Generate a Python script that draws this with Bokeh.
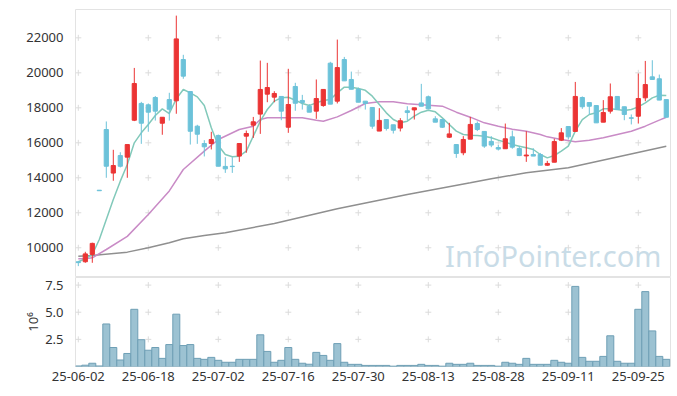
from bokeh.plotting import figure
from bokeh.layouts import column
from bokeh.models import Range1d, FixedTicker, NumeralTickFormatter, Label, ColumnDataSource
from bokeh.embed import file_html
from bokeh.resources import INLINE

dates = [
    "25-06-02", "25-06-04", "25-06-05", "25-06-09", "25-06-10", "25-06-11", "25-06-12", "25-06-13",
    "25-06-16", "25-06-17", "25-06-18", "25-06-19", "25-06-20", "25-06-23", "25-06-24", "25-06-25",
    "25-06-26", "25-06-27", "25-06-30",
    "25-07-01", "25-07-02", "25-07-03", "25-07-04", "25-07-07", "25-07-08", "25-07-09", "25-07-10",
    "25-07-11", "25-07-14", "25-07-15", "25-07-16", "25-07-17", "25-07-18", "25-07-21", "25-07-22",
    "25-07-23", "25-07-24", "25-07-25", "25-07-28", "25-07-29", "25-07-30", "25-07-31",
    "25-08-01", "25-08-04", "25-08-05", "25-08-06", "25-08-07", "25-08-08", "25-08-11", "25-08-12",
    "25-08-13", "25-08-14", "25-08-18", "25-08-19", "25-08-20", "25-08-21", "25-08-22", "25-08-25",
    "25-08-26", "25-08-27", "25-08-28", "25-08-29",
    "25-09-01", "25-09-02", "25-09-03", "25-09-04", "25-09-05", "25-09-08", "25-09-09", "25-09-10",
    "25-09-11", "25-09-12", "25-09-15", "25-09-16", "25-09-17", "25-09-18", "25-09-19", "25-09-22",
    "25-09-23", "25-09-24", "25-09-25", "25-09-26", "25-09-29", "25-09-30",
    "25-10-01",
]

open_ = [9200, 9200, 9620, 13290, 16760, 14270, 15270, 15180, 17290, 18250,
         18170, 18590, 17120, 18470, 18400, 20760, 18930, 16950, 15960, 15960,
         16420, 14650, 14660, 15240, 16380, 17010, 17640, 18780, 18610, 18650,
         16890, 19220, 18420, 18090, 17810, 18130, 20550, 18380, 20760, 19620,
         19050, 18380, 18020, 16670, 17330, 17030, 16840, 17830, 17880, 18280,
         18630, 17370, 17330, 16320, 15900, 15430, 16210, 17100, 16650, 16080,
         15730, 15660, 16340, 15670, 15250, 15330, 15330, 14720, 14890, 16150,
         16930, 16650, 18590, 18300, 18130, 17180, 17810, 18650, 18060, 17430,
         17520, 18570, 19770, 19660, 18470]
high = [9220, 9770, 10290, 13290, 17220, 15600, 15460, 15900, 20280, 18340,
        18250, 18670, 17460, 18860, 23270, 21030, 18930, 17030, 16150, 16630,
        16470, 15180, 15180, 15960, 16700, 17480, 20700, 20570, 18950, 18650,
        20230, 19430, 18740, 18210, 19620, 19050, 20630, 21900, 20910, 20070,
        19160, 18380, 18020, 17980, 17330, 17030, 17410, 18090, 18000, 19370,
        18700, 17520, 17330, 17140, 15900, 16380, 17480, 17220, 16650, 16380,
        15870, 17100, 16700, 15810, 16660, 15690, 15420, 14970, 16230, 16840,
        16930, 19480, 18650, 18300, 18130, 18440, 19390, 18650, 18060, 17620,
        19960, 20680, 20720, 19900, 18470]
low = [8950, 9140, 9140, 13260, 14000, 13830, 14590, 14000, 17240, 15940,
       16630, 17270, 16460, 17270, 17660, 19660, 15900, 15940, 15220, 15620,
       14660, 14280, 14280, 14910, 15430, 16280, 16510, 18320, 18320, 17290,
       16570, 17830, 17900, 17750, 17370, 18060, 18210, 18250, 19540, 19060,
       18320, 17900, 16800, 16670, 16700, 16530, 16650, 17290, 17330, 18090,
       17940, 17180, 16850, 16270, 15140, 15290, 16210, 16670, 15710, 15750,
       15560, 15660, 15660, 15240, 14910, 15240, 14720, 14680, 14890, 16100,
       16190, 16650, 17940, 17620, 17140, 17180, 17670, 17900, 17290, 17050,
       17100, 18380, 19620, 18440, 17460]
close = [9150, 9650, 10250, 13260, 14660, 14700, 14660, 15900, 19390, 17120,
         17750, 17810, 17460, 17920, 21940, 19810, 16660, 16490, 15770, 16190,
         14660, 14510, 14640, 15960, 16530, 17200, 19050, 19160, 18820, 17810,
         18190, 18260, 18300, 17750, 18530, 19050, 18210, 20300, 19540, 19060,
         18320, 18250, 16950, 17280, 16820, 16720, 17260, 17730, 18000, 18090,
         17940, 17180, 16890, 16510, 15390, 16190, 17050, 16760, 15810, 15870,
         15640, 16230, 15750, 15270, 15300, 15240, 14720, 14820, 16070, 16570,
         16340, 18650, 18060, 18090, 17140, 17730, 18630, 17900, 17620, 17400,
         18530, 19330, 19620, 18440, 17460]

# volume in millions of shares
volume = [0.05, 0.12, 0.3, 0.05, 3.92, 1.75, 0.6, 1.2, 5.27, 2.47,
          1.5, 1.75, 0.75, 2.02, 4.82, 1.93, 2.02, 0.75, 0.66, 0.84,
          0.57, 0.39, 0.39, 0.66, 0.66, 0.66, 2.92, 1.39, 0.39, 0.57,
          1.75, 0.66, 0.3, 0.21, 1.3, 1.02, 0.57, 2.11, 0.39, 0.2,
          0.2, 0.1, 0.1, 0.1, 0.1, 0.03, 0.1, 0.1, 0.1, 0.2,
          0.1, 0.1, 0.03, 0.3, 0.2, 0.2, 0.3, 0.1, 0.1, 0.1,
          0.03, 0.39, 0.3, 0.2, 0.75, 0.2, 0.2, 0.2, 0.57, 0.39,
          0.3, 7.38, 0.84, 0.48, 0.48, 0.93, 2.83, 0.48, 0.3, 0.3,
          5.27, 6.9, 3.28, 0.93, 0.66]

ma_short = [9200, 9369, 9617, 10474, 11617, 12760, 13807, 14760, 15998, 16569,
            17045, 17560, 17941, 17674, 18512, 19045, 18855, 18626, 18131, 16855,
            15850, 15331, 15198, 15236, 15521, 16379, 17236, 17903, 18379, 18569,
            18607, 18436, 18245, 18131, 18283, 18417, 18474, 18855, 19179, 19179,
            19103, 19000, 18665, 18189, 17713, 17332, 17141, 17237, 17522, 17751,
            17865, 17770, 17427, 17046, 16665, 16475, 16437, 16418, 16379, 16284,
            16151, 16037, 15903, 15807, 15712, 15617, 15331, 15140, 15274, 15521,
            15807, 16664, 17331, 17617, 17712, 17941, 17941, 17902, 17845, 17902,
            18055, 18283, 18569, 18721, 18702]

ma_mid_x = [0, 1, 2, 4, 7, 10, 13, 15, 18, 20, 23, 25, 26, 27, 30, 32, 34, 35, 37, 39,
            41, 43, 45, 47, 50, 52, 54, 56, 58, 60, 62, 64, 66, 67, 69, 71, 73, 75, 77,
            79, 81, 83, 84]
ma_mid_y = [9369, 9369, 9426, 9900, 10650, 11900, 13250, 14474, 15522, 16188, 16760, 16950,
            17331, 17427, 17427, 17427, 17293, 17236, 17483, 17845, 18245, 18341, 18341,
            18227, 18151, 18094, 17751, 17465, 17141, 16951, 16780, 16664, 16474, 16340,
            16188, 16055, 16150, 16283, 16474, 16664, 16950, 17293, 17464]

ma_long_x = [0, 2, 7, 10, 13, 15, 18, 21, 28, 37, 47, 56, 59, 64, 70, 84]
ma_long_y = [9520, 9560, 9750, 10000, 10284, 10512, 10702, 10860, 11390, 12230, 13050,
             13710, 13940, 14290, 14570, 15806]

price_ticks = [10000, 12000, 14000, 16000, 18000, 20000, 22000]
volume_ticks = [2.5, 5.0, 7.5]
date_tick_idx = [0, 10, 20, 30, 40, 50, 60, 70, 80]

UP = "#eb3434"
DOWN = "#6cc2d9"
FONT = "Noto Sans"
LABEL_COLOR = "#333333"
GRID_MARK = "#dcdcdc"

idx = list(range(len(dates)))
colors = [UP if c > o else DOWN for o, c in zip(open_, close)]
src = ColumnDataSource(dict(
    x=idx, open=open_, high=high, low=low, close=close,
    top=[max(o, c) for o, c in zip(open_, close)],
    bottom=[min(o, c) for o, c in zip(open_, close)],
    color=colors, vol=volume, date=dates,
))

x_range = Range1d(-0.4, 84.6)


def style(fig):
    fig.outline_line_color = "#e3e3e3"
    fig.xgrid.visible = False
    fig.ygrid.visible = False
    fig.background_fill_color = "white"
    fig.border_fill_color = "white"
    for ax in fig.axis:
        ax.axis_line_color = None
        ax.major_tick_line_color = None
        ax.minor_tick_line_color = None
        ax.major_label_text_font = FONT
        ax.major_label_text_font_size = "13px"
        ax.major_label_text_color = LABEL_COLOR
        ax.major_label_standoff = 6


p = figure(frame_width=595, frame_height=268, x_range=x_range,
           y_range=Range1d(8300, 23620), output_backend="svg", toolbar_location=None,
           x_axis_location=None, min_border_left=75, min_border_right=2,
           min_border_top=9, min_border_bottom=0)
style(p)
p.yaxis.ticker = FixedTicker(ticks=price_ticks)

# grid intersection marks
gx = [t for t in date_tick_idx for _ in price_ticks]
gy = [v for _ in date_tick_idx for v in price_ticks]
p.scatter(gx, gy, marker="cross", size=6, line_color=GRID_MARK, line_width=1)

wm = Label(x=83.3, y=8450, text="InfoPointer.com", text_align="right",
           text_font=FONT, text_font_size="29px", text_color="#c9dce7")
p.add_layout(wm)

p.line(ma_long_x, ma_long_y, line_color="#8f8f8f", line_width=1.5)
p.line(ma_mid_x, ma_mid_y, line_color="#c98bc6", line_width=1.5)
p.line(idx, ma_short, line_color="#82c9ba", line_width=1.5)

p.segment(x0="x", y0="high", x1="x", y1="low", line_color="color", line_width=1, source=src)
p.vbar(x="x", width=0.6, top="top", bottom="bottom", fill_color="color",
       line_color="color", line_width=1, source=src)

v = figure(frame_width=595, frame_height=89, x_range=x_range,
           y_range=Range1d(0, 8.2), output_backend="svg", toolbar_location=None,
           min_border_left=75, min_border_right=2, min_border_top=0, min_border_bottom=22)
style(v)
v.yaxis.ticker = FixedTicker(ticks=volume_ticks)
v.yaxis.formatter = NumeralTickFormatter(format="0.0")
v.yaxis.axis_label = "10⁶"
v.yaxis.axis_label_text_font = FONT
v.yaxis.axis_label_text_font_style = "normal"
v.yaxis.axis_label_text_font_size = "13px"
v.yaxis.axis_label_text_color = LABEL_COLOR
v.yaxis.axis_label_standoff = 0
v.xaxis.ticker = FixedTicker(ticks=date_tick_idx)
v.xaxis.major_label_overrides = {i: dates[i] for i in date_tick_idx}
v.xaxis.major_tick_out = 0
v.xaxis.major_label_standoff = 5

vgx = [t for t in date_tick_idx for _ in volume_ticks]
vgy = [val for _ in date_tick_idx for val in volume_ticks]
v.scatter(vgx, vgy, marker="cross", size=6, line_color=GRID_MARK, line_width=1)
v.vbar(x="x", width=1.0, top="vol", bottom=0, fill_color="#9cc2d2",
       line_color="#6e9fb5", line_width=1, fill_alpha=1.0, source=src)

layout = column(p, v, spacing=0)
open("out.html", "w").write(file_html(layout, INLINE))
